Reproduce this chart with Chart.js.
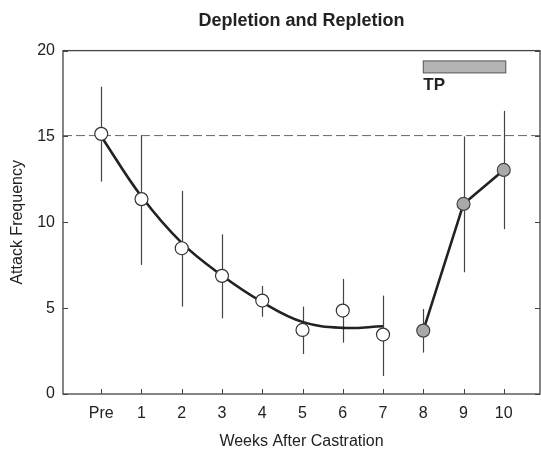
<!DOCTYPE html>
<html>
<head>
<meta charset="utf-8">
<script src="https://cdn.jsdelivr.net/npm/chart.js@4.4.1/dist/chart.umd.min.js"></script>
<style>
  html, body { margin: 0; padding: 0; background: #fff; }
  #wrap { width: 541px; height: 453px; }
</style>
</head>
<body>
<div id="wrap"><canvas id="chart" width="541" height="453"></canvas></div>
<script>
// week positions and their tick labels
const weekTicks = [0, 1, 2, 3, 4, 5, 6, 7, 8, 9, 10];
const weekLabels = ['Pre', '1', '2', '3', '4', '5', '6', '7', '8', '9', '10'];
const yTicks = [0, 5, 10, 15, 20];

// depletion phase (open circles), means and error bar ends
const depletionWeeks = [0, 1, 2, 3, 4, 5, 6, 7];
const depletionMean = [15.15, 11.35, 8.49, 6.88, 5.44, 3.73, 4.86, 3.46];
const depletionLow = [12.37, 7.52, 5.09, 4.41, 4.5, 2.33, 2.99, 1.05];
const depletionHigh = [17.9, 15.05, 11.83, 9.3, 6.29, 5.09, 6.7, 5.73];

// fitted curve read at each depletion week
const fitCurve = [15.0, 11.5, 8.8, 6.9, 5.35, 4.2, 3.85, 3.95];

// repletion phase (grey circles)
const repletionWeeks = [8, 9, 10];
const repletionMean = [3.69, 11.07, 13.05];
const repletionLow = [2.41, 7.09, 9.6];
const repletionHigh = [4.95, 15.0, 16.49];

// baseline reference and TP treatment bar
const baselineLevel = 15.05;
const tpStart = 8, tpEnd = 10.05, tpLow = 18.7, tpHigh = 19.4;

const FONT = "'Liberation Sans', Arial, sans-serif";
const INK = '#222';

function toPoints(xs, ys) {
    return xs.map((x, i) => ({ x: x, y: ys[i] }));
}

// frame, inward ticks, error bars, dashed baseline and TP bar
const decorations = {
    id: 'decorations',
    beforeDatasetsDraw(chart) {
        const { ctx, chartArea: a, scales: { x, y } } = chart;
        ctx.save();
        // dashed baseline
        ctx.strokeStyle = '#666';
        ctx.lineWidth = 1;
        ctx.setLineDash([9, 4]);
        ctx.beginPath();
        ctx.moveTo(a.left, y.getPixelForValue(baselineLevel));
        ctx.lineTo(a.right, y.getPixelForValue(baselineLevel));
        ctx.stroke();
        ctx.setLineDash([]);

        // error bars
        ctx.strokeStyle = '#444';
        ctx.lineWidth = 1.2;
        const bars = (xs, lo, hi) => {
            xs.forEach((w, i) => {
                const px = Math.round(x.getPixelForValue(w)) + 0.5;
                ctx.beginPath();
                ctx.moveTo(px, y.getPixelForValue(lo[i]));
                ctx.lineTo(px, y.getPixelForValue(hi[i]));
                ctx.stroke();
            });
        };
        bars(depletionWeeks, depletionLow, depletionHigh);
        bars(repletionWeeks, repletionLow, repletionHigh);
        ctx.restore();
    },
    afterDraw(chart) {
        const { ctx, chartArea: a, scales: { x, y } } = chart;
        ctx.save();
        // frame
        ctx.strokeStyle = '#444';
        ctx.lineWidth = 1.3;
        ctx.strokeRect(a.left, a.top, a.right - a.left, a.bottom - a.top);

        // inward tick marks
        ctx.lineWidth = 1;
        const len = 5;
        weekTicks.forEach(w => {
            const px = Math.round(x.getPixelForValue(w)) + 0.5;
            ctx.beginPath();
            ctx.moveTo(px, a.bottom);
            ctx.lineTo(px, a.bottom - len);
            ctx.stroke();
        });
        yTicks.forEach(v => {
            const py = Math.round(y.getPixelForValue(v)) + 0.5;
            ctx.beginPath();
            ctx.moveTo(a.left, py);
            ctx.lineTo(a.left + len, py);
            ctx.moveTo(a.right, py);
            ctx.lineTo(a.right - len, py);
            ctx.stroke();
        });

        // TP bar
        const x0 = x.getPixelForValue(tpStart), x1 = x.getPixelForValue(tpEnd);
        const y0 = y.getPixelForValue(tpHigh), y1 = y.getPixelForValue(tpLow);
        ctx.fillStyle = '#b4b4b4';
        ctx.fillRect(x0, y0, x1 - x0, y1 - y0);
        ctx.strokeStyle = '#555';
        ctx.strokeRect(x0, y0, x1 - x0, y1 - y0);
        ctx.fillStyle = INK;
        ctx.font = 'bold 17px ' + FONT;
        ctx.textAlign = 'left';
        ctx.textBaseline = 'alphabetic';
        ctx.fillText('TP', x0, y1 + 17);
        ctx.restore();
    }
};

const data = {
    datasets: [
        {
            label: 'Depletion',
            data: toPoints(depletionWeeks, depletionMean),
            showLine: false,
            pointRadius: 6.5,
            pointBackgroundColor: '#fff',
            pointBorderColor: '#333',
            pointBorderWidth: 1.2
        },
        {
            label: 'Repletion',
            data: toPoints(repletionWeeks, repletionMean),
            showLine: true,
            borderColor: INK,
            borderWidth: 2.6,
            tension: 0,
            pointRadius: 6.5,
            pointBackgroundColor: '#a9a9a9',
            pointBorderColor: '#444',
            pointBorderWidth: 1.2
        },
        {
            label: 'Fit',
            data: toPoints(depletionWeeks, fitCurve),
            showLine: true,
            borderColor: INK,
            borderWidth: 2.6,
            tension: 0.4,
            pointRadius: 0
        }
    ]
};

new Chart(document.getElementById('chart'), {
    type: 'scatter',
    data: data,
    plugins: [decorations],
    options: {
        responsive: false,
        animation: false,
        events: [],
        layout: { autoPadding: false, padding: { left: 0, right: 1, top: 0, bottom: 0 } },
        plugins: {
            legend: { display: false },
            tooltip: { enabled: false },
            title: {
                display: true,
                text: 'Depletion and Repletion',
                fullSize: false,
                color: INK,
                font: { family: FONT, size: 18, weight: 'bold' },
                padding: { top: 10, bottom: 19 }
            }
        },
        scales: {
            x: {
                type: 'linear',
                min: -0.95,
                max: 10.9,
                afterBuildTicks: (scale) => {
                    scale.ticks = weekTicks.map(v => ({ value: v }));
                },
                afterFit: (scale) => {
                    scale.height = 59;
                    scale.paddingLeft = 0;
                    scale.paddingRight = 0;
                },
                grid: { display: false, drawTicks: false },
                border: { display: false },
                ticks: {
                    color: INK,
                    padding: 10,
                    maxRotation: 0,
                    autoSkip: false,
                    font: { family: FONT, size: 16 },
                    callback: (v) => weekLabels[weekTicks.indexOf(v)]
                },
                title: {
                    display: true,
                    text: 'Weeks After Castration',
                    color: INK,
                    font: { family: FONT, size: 16 },
                    padding: { top: 0, bottom: 2 }
                }
            },
            y: {
                min: 0,
                max: 20,
                afterBuildTicks: (scale) => {
                    scale.ticks = yTicks.map(v => ({ value: v }));
                },
                afterFit: (scale) => { scale.width = 63; },
                grid: { display: false, drawTicks: false },
                border: { display: false },
                ticks: {
                    color: INK,
                    padding: 8,
                    font: { family: FONT, size: 16 }
                },
                title: {
                    display: true,
                    text: 'Attack Frequency',
                    color: INK,
                    font: { family: FONT, size: 16 },
                    padding: { top: 8, bottom: 0 }
                }
            }
        }
    }
});
</script>
</body>
</html>
